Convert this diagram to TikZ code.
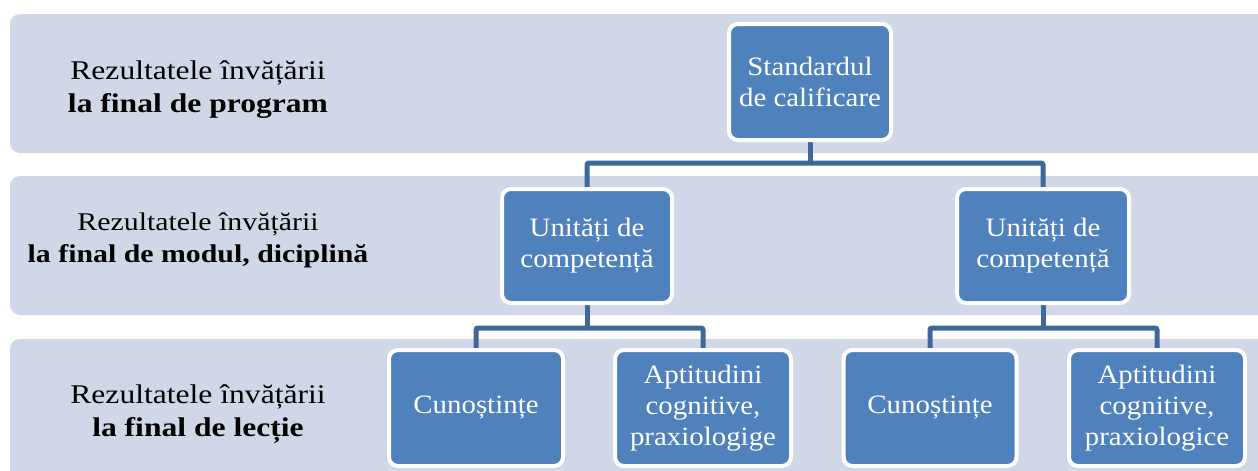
\documentclass[tikz,border=0pt]{standalone}
\usepackage{fontspec}
\setmainfont{Liberation Serif}
\newfontfamily\lblfont[FakeStretch=1.17]{Liberation Serif}
\newfontfamily\boxfont[FakeStretch=1.09]{Liberation Serif}
\usetikzlibrary{backgrounds}
\definecolor{bandc}{HTML}{D0D8E8}
\definecolor{boxc}{HTML}{4F81BD}
\definecolor{linec}{HTML}{3D6898}
\begin{document}
\begin{tikzpicture}[x=1pt,y=-1pt,
  band/.style={fill=bandc,rounded corners=10pt},
  bx/.style={fill=boxc,draw=white,line width=4pt,rounded corners=9pt,text=white,align=center,inner sep=0pt,font=\boxfont\fontsize{26.5}{31}\selectfont},
  lbl/.style={align=center,font=\lblfont\fontsize{27}{33}\selectfont},
  lblb/.style={align=center,font=\lblfont\fontsize{25.5}{32}\selectfont},
  conn/.style={draw=linec,line width=5pt}]
\useasboundingbox (0,0) rectangle (1258,471);
\clip (0,0) rectangle (1258,471);
\node[lbl] (l1) at (198,90) {Rezultatele învățării\\\textbf{la final de program}};
\node[lblb] (l2) at (198,240) {Rezultatele învățării\\\textbf{la final de modul, diciplină}};
\node[lbl] (l3) at (198,414) {Rezultatele învățării\\\textbf{la final de lecție}};
\node[bx,minimum width=162pt,minimum height=116pt] (s) at (810,82) {Standardul\\de calificare};
\node[bx,minimum width=170pt,minimum height=114pt] (u1) at (587,246) {Unități de\\competență};
\node[bx,minimum width=172pt,minimum height=114pt] (u2) at (1043,246) {Unități de\\competență};
\node[bx,minimum width=174pt,minimum height=116pt] (c1) at (476,408) {Cunoștințe};
\node[bx,minimum width=176pt,minimum height=116pt] (a1) at (703,408) {Aptitudini\\cognitive,\\praxiologige};
\node[bx,minimum width=173pt,minimum height=116pt] (c2) at (930,408) {Cunoștințe};
\node[bx,minimum width=176pt,minimum height=116pt] (a2) at (1157,408) {Aptitudini\\cognitive,\\praxiologice};
\begin{scope}[on background layer]
\fill[band] (10,14) rectangle (1280,153);
\fill[band] (10,176) rectangle (1280,315);
\fill[band] (10,339) rectangle (1280,500);
\draw[conn] (s.south) -- ++(0,21) coordinate (j0);
\draw[conn,rounded corners=2pt] (u1.north) |- (j0) -| (u2.north);
\draw[conn,rounded corners=2pt] (u1.south) -- ++(0,23) coordinate (j1);
\draw[conn,rounded corners=2pt] (c1.north) |- (j1) -| (a1.north);
\draw[conn,rounded corners=2pt] (u2.south) -- ++(0,23) coordinate (j2);
\draw[conn,rounded corners=2pt] (c2.north) |- (j2) -| (a2.north);
\end{scope}
\end{tikzpicture}
\end{document}
